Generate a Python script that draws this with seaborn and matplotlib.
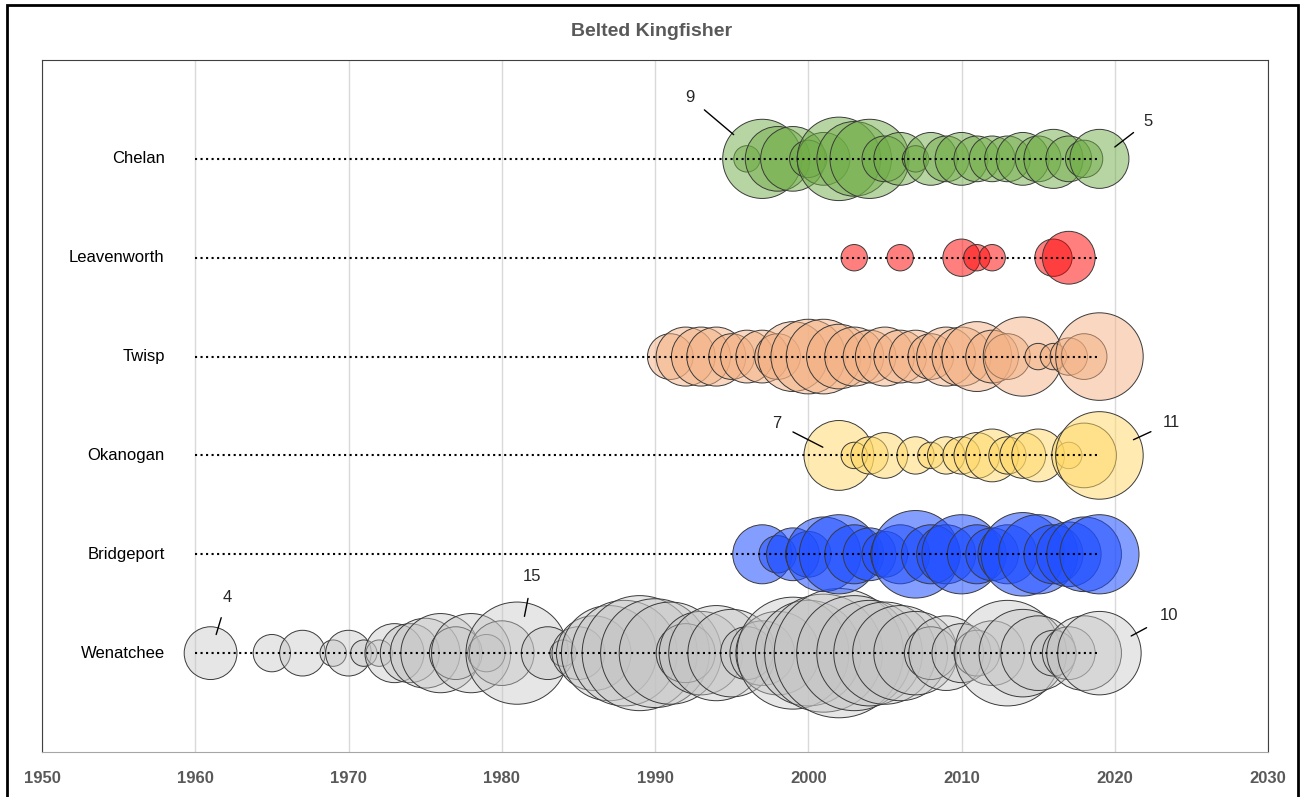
import numpy as np
import pandas as pd
import matplotlib.pyplot as plt
import matplotlib.colors as mcolors
from matplotlib.patches import Rectangle
import seaborn as sns

# bubble data: year of survey and count per site
chelan_years = [1996, 1997, 1998, 1999, 2000, 2001, 2002, 2003, 2004, 2005, 2006, 2007,
                2008, 2009, 2010, 2011, 2012, 2013, 2014, 2015, 2016, 2017, 2018, 2019]
chelan_counts = [1, 9, 6, 6, 2, 4, 10, 8, 9, 3, 4, 1, 4, 3, 4, 3, 3, 3, 4, 3, 5, 3, 2, 5]

leavenworth_years = [2003, 2006, 2010, 2011, 2012, 2016, 2017]
leavenworth_counts = [1, 1, 2, 1, 1, 2, 4]

twisp_years = [1991, 1992, 1993, 1994, 1995, 1996, 1997, 1998, 1999, 2000, 2001, 2002, 2003, 2004,
               2005, 2006, 2007, 2008, 2009, 2010, 2011, 2012, 2013, 2014, 2015, 2016, 2017, 2018, 2019]
twisp_counts = [3, 5, 5, 5, 3, 4, 4, 3, 7, 8, 8, 6, 5, 4, 5, 4, 4, 3, 5, 5, 7, 4, 3, 9, 1, 1, 2, 3, 11]

okanogan_years = [2002, 2003, 2004, 2005, 2007, 2008, 2009, 2010, 2011, 2012, 2013, 2014, 2015,
                  2017, 2018, 2019]
okanogan_counts = [7, 1, 2, 3, 2, 1, 2, 2, 3, 4, 2, 3, 4, 1, 6, 11]

bridgeport_years = [1997, 1998, 1999, 2000, 2001, 2002, 2003, 2004, 2005, 2006, 2007, 2008,
                    2009, 2010, 2011, 2012, 2013, 2014, 2015, 2016, 2017, 2018, 2019]
bridgeport_counts = [5, 2, 4, 3, 8, 9, 5, 4, 3, 5, 11, 5, 5, 9, 5, 4, 5, 10, 9, 5, 6, 8, 9]

wenatchee_years = [1961, 1965, 1967, 1969, 1970, 1971, 1972, 1973, 1974, 1975, 1976, 1977, 1978,
                   1979, 1980, 1981, 1983, 1984, 1985, 1986, 1987, 1988, 1989, 1990, 1991, 1992,
                   1993, 1994, 1995, 1996, 1997, 1998, 1999, 2000, 2001, 2002, 2003, 2004, 2005,
                   2006, 2007, 2008, 2009, 2010, 2011, 2012, 2013, 2014, 2015, 2016, 2017, 2018, 2019]
wenatchee_counts = [4, 2, 3, 1, 3, 1, 1, 5, 5, 7, 9, 4, 9, 2, 6, 15, 4, 1, 4, 8, 13, 16, 19, 17,
                    15, 5, 10, 13, 11, 4, 6, 10, 18, 16, 20, 24, 19, 16, 15, 13, 10, 4, 8, 5, 3,
                    6, 16, 11, 8, 3, 4, 8, 10]

sites = ['Chelan', 'Leavenworth', 'Twisp', 'Okanogan', 'Bridgeport', 'Wenatchee']
site_years = [chelan_years, leavenworth_years, twisp_years, okanogan_years, bridgeport_years, wenatchee_years]
site_counts = [chelan_counts, leavenworth_counts, twisp_counts, okanogan_counts, bridgeport_counts, wenatchee_counts]
colors = {'Chelan': '#70AD47', 'Leavenworth': '#FF0000', 'Twisp': '#F4B183',
          'Okanogan': '#FFD966', 'Bridgeport': '#1F4FFF', 'Wenatchee': '#C4C4C4'}
alphas = {'Chelan': 0.5, 'Leavenworth': 0.5, 'Twisp': 0.5,
          'Okanogan': 0.5, 'Bridgeport': 0.55, 'Wenatchee': 0.42}

# labelled bubbles: (site, year, label offset in points, shrink at text, shrink at bubble)
callouts = [('Chelan', 1997, (-52, 44), 6, 27),
            ('Chelan', 2019, (35, 27), 6, 14),
            ('Okanogan', 2002, (-45, 23), 7, 13),
            ('Okanogan', 2019, (52, 24), 7, 27),
            ('Wenatchee', 1961, (12, 40), 7, 14),
            ('Wenatchee', 1981, (11, 55), 8, 27),
            ('Wenatchee', 2019, (50, 27), 8, 26)]

line_start, line_end = 1960, 2019

rows = {s: len(sites) - i for i, s in enumerate(sites)}
df = pd.concat([pd.DataFrame({'site': s, 'year': y, 'count': c, 'row': rows[s]})
                for s, y, c in zip(sites, site_years, site_counts)], ignore_index=True)

sns.set_style('white')
plt.rcParams['font.family'] = ['Liberation Sans', 'DejaVu Sans']

fig = plt.figure(figsize=(13.04, 7.97), dpi=100)
ax = fig.add_axes([42 / 1304, 1 - 752 / 797, (1268 - 42) / 1304, (752 - 60) / 797])

k = 361  # marker area per unit of count
cmax = df['count'].max()
for s in sites[::-1]:
    sub = df[df['site'] == s]
    sns.scatterplot(data=sub, x='year', y='row', size='count', sizes=(k, k * cmax),
                    size_norm=(1, cmax), color=colors[s], edgecolor='#3A3A3A',
                    linewidth=0.7, legend=False, ax=ax, zorder=3)
    ax.collections[-1].set_facecolor(mcolors.to_rgba(colors[s], alphas[s]))
    ax.plot([line_start, line_end], [rows[s], rows[s]], ls=':', color='black', lw=1.5, zorder=5)

for s in sites:
    ax.annotate(s, xy=(line_start, rows[s]), xytext=(-22, 0), textcoords='offset points',
                ha='right', va='center', fontsize=12, color='black')

for s, yr, off, sa, sb in callouts:
    val = df[(df['site'] == s) & (df['year'] == yr)]['count'].iloc[0]
    ax.annotate(str(val), xy=(yr, rows[s]), xytext=off, textcoords='offset points',
                ha='center', va='center', fontsize=12, zorder=6,
                arrowprops=dict(arrowstyle='-', color='black', lw=1, shrinkA=sa, shrinkB=sb))

ax.set_xlim(1950, 2030)
ax.set_ylim(0, 7)
ax.set_xticks(range(1950, 2031, 10))
ax.set_yticks([])
ax.set_xlabel('')
ax.set_ylabel('')
ax.grid(axis='x', color='#D9D9D9', lw=1)
ax.set_axisbelow(True)
ax.tick_params(axis='x', length=0, pad=14, labelsize=12, labelcolor='#595959')
for lbl in ax.get_xticklabels():
    lbl.set_fontweight('bold')
for side in ['left', 'top', 'right']:
    ax.spines[side].set_color('#404040')
ax.spines['bottom'].set_color('#A6A6A6')

fig.text(0.5, 1 - 31 / 797, 'Belted Kingfisher', ha='center', va='center',
         fontsize=14, fontweight='bold', color='#595959')
fig.add_artist(Rectangle((7 / 1304, -0.02), (1298 - 7) / 1304, 1.02 - 5 / 797,
                         transform=fig.transFigure, fill=False, edgecolor='black', lw=2))

fig.savefig('out.png', dpi=100)
